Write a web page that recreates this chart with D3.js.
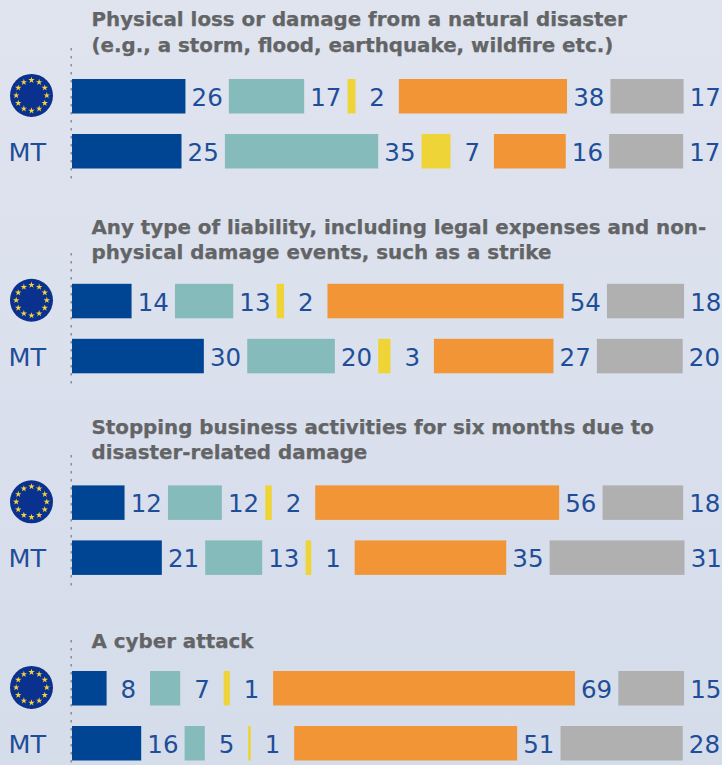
<!DOCTYPE html>
<html>
<head>
<meta charset="utf-8">
<script src="https://cdn.jsdelivr.net/npm/d3@7"></script>
<style>
  html, body { margin: 0; padding: 0; background: #dbe0ec; }
  svg { display: block; }
</style>
</head>
<body>
<div id="chart"></div>
<script>
// question titles, one line per entry
const titles = [
  ["Physical loss or damage from a natural disaster", "(e.g., a storm, flood, earthquake, wildfire etc.)"],
  ["Any type of liability, including legal expenses and non-", "physical damage events, such as a strike"],
  ["Stopping business activities for six months due to", "disaster-related damage"],
  ["A cyber attack"]
];

// % per answer (labels are the rounded values)
const euValues = [
  [25.9, 17.2, 1.8, 38.4, 16.7],
  [13.6, 13.3, 1.7, 53.9, 17.6],
  [12.0, 12.3, 1.5, 55.7, 18.4],
  [7.9, 6.9, 1.4, 68.9, 15.0]
];
const mtValues = [
  [25.0, 35.0, 6.6, 16.4, 16.9],
  [30.1, 20.0, 2.8, 27.3, 19.6],
  [20.51, 13.0, 1.3, 34.6, 30.8],
  [15.8, 4.6, 0.6, 50.9, 27.9]
];
const rowLabels = ["EU", "MT"];
const answerColors = ["#004494", "#85bbbb", "#eed436", "#f29537", "#b0b0b0"];

const width = 722;
const height = 765;
const barLeft = 72;
const gap = 43.4;
const barHeight = 34.5;

// y of the first row's bar top and the title baselines in each block
const blockTops = [79, 283.8, 485.4, 671];
const titleBaselines = [26, 234, 434, 648];
const titleSteps = [26, 25, 25, 0];
const ruleRanges = [[48, 183], [253, 388], [455, 590], [640, 765]];

const x = d3.scaleLinear().domain([0, 100]).range([0, 438]);
const y = d3.scaleBand().domain(rowLabels).range([0, 55 * 2]).paddingInner(0);

const svg = d3.select('#chart')
  .append('svg')
  .attr('width', width)
  .attr('height', height);

const grad = svg.append('defs').append('linearGradient')
  .attr('id', 'bg')
  .attr('x1', 0).attr('y1', 0).attr('x2', 0).attr('y2', 1);
grad.append('stop').attr('offset', '0%').attr('stop-color', '#dfe4ef');
grad.append('stop').attr('offset', '100%').attr('stop-color', '#d5dcea');

svg.append('rect')
  .attr('width', width)
  .attr('height', height)
  .attr('fill', 'url(#bg)');

function drawFlag(g, cx, cy) {
  g.append('circle')
    .attr('cx', cx)
    .attr('cy', cy)
    .attr('r', 21.5)
    .attr('fill', '#0b318f');
  const star = d3.symbol().type(d3.symbolStar).size(13);
  g.selectAll('path.star')
    .data(d3.range(12))
    .enter()
    .append('path')
    .attr('class', 'star')
    .attr('d', star)
    .attr('fill', '#f5d33a')
    .attr('transform', i => {
      const a = i / 12 * 2 * Math.PI;
      return `translate(${cx + 15.3 * Math.sin(a)}, ${cy - 15.3 * Math.cos(a)})`;
    });
}

titles.forEach((lines, b) => {
  const block = svg.append('g');

  block.append('line')
    .attr('x1', 71.2)
    .attr('x2', 71.2)
    .attr('y1', ruleRanges[b][0])
    .attr('y2', ruleRanges[b][1])
    .attr('stroke', '#85888f')
    .attr('stroke-width', 1.4)
    .attr('stroke-dasharray', '2.5,5.5');

  block.selectAll('text.title')
    .data(lines)
    .enter()
    .append('text')
    .attr('class', 'title')
    .attr('x', 91.5)
    .attr('y', (d, i) => titleBaselines[b] + i * titleSteps[b])
    .attr('font-family', '"DejaVu Sans", sans-serif')
    .attr('font-weight', 'bold')
    .attr('font-size', '19.85px')
    .attr('fill', '#636466')
    .attr('stroke', '#636466')
    .attr('stroke-width', 0.25)
    .text(d => d);

  [euValues[b], mtValues[b]].forEach((values, r) => {
    const top = blockTops[b] + y(rowLabels[r]);
    const mid = top + barHeight / 2;

    // running start of each bar, bars are spaced to leave room for the label
    let used = 0;
    const segs = values.map((v, i) => {
      const s = {value: v, i: i, start: barLeft + x(used) + i * gap};
      used += v;
      return s;
    });

    const row = block.append('g');
    row.selectAll('rect')
      .data(segs)
      .enter()
      .append('rect')
      .attr('x', d => d.start)
      .attr('y', top)
      .attr('width', d => x(d.value))
      .attr('height', barHeight)
      .attr('fill', d => answerColors[d.i]);

    row.selectAll('text.val')
      .data(segs)
      .enter()
      .append('text')
      .attr('class', 'val')
      .attr('x', d => d.start + x(d.value) + gap / 2)
      .attr('y', mid + 9.5)
      .attr('text-anchor', 'middle')
      .attr('font-family', '"DejaVu Sans", sans-serif')
      .attr('font-size', '24.5px')
      .attr('fill', '#1f4e99')
      .text(d => d3.format('.0f')(d.value));

    if (rowLabels[r] === 'EU') {
      drawFlag(row, 31.5, mid - 0.8);
    } else {
      row.append('text')
        .attr('x', 8.5)
        .attr('y', mid + 9.5)
        .attr('font-family', '"DejaVu Sans", sans-serif')
        .attr('font-size', '25.5px')
        .attr('fill', '#1f4e99')
        .text(rowLabels[r]);
    }
  });
});
</script>
</body>
</html>
